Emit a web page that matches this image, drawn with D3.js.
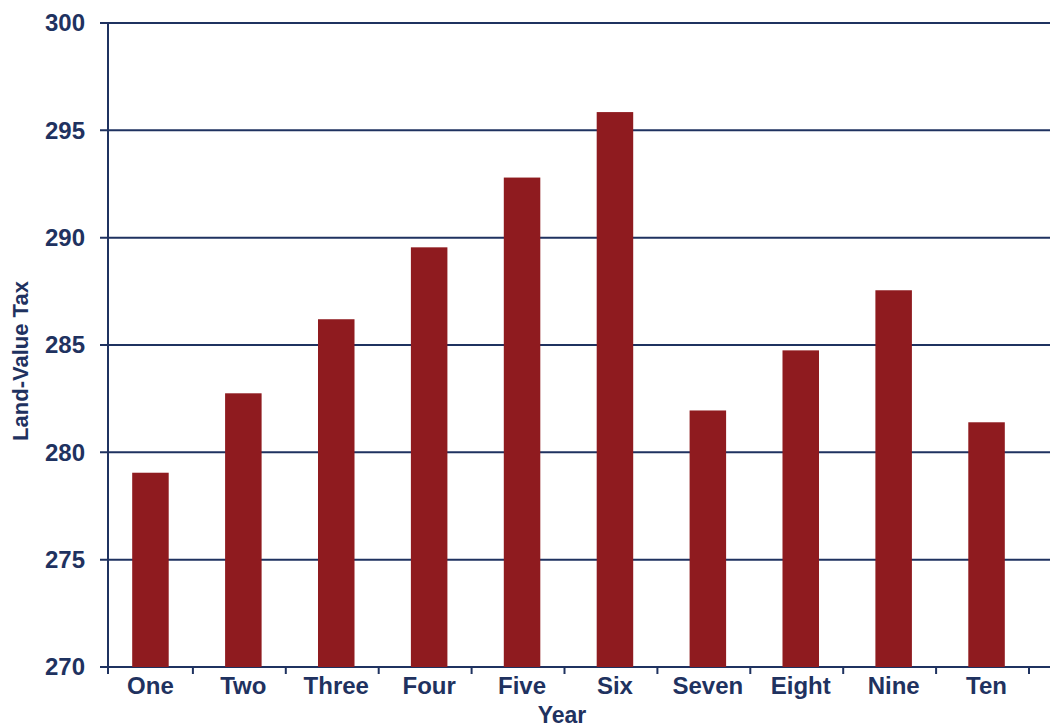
<!DOCTYPE html>
<html>
<meta charset="UTF-8">
<head>
<style>
body { margin: 0; background: white; }
svg { display: block; }
text { font-family: Arial, "Liberation Sans", sans-serif; font-weight: bold; fill: #1f3260; }
</style>
</head>
<body>
<script src="https://d3js.org/d3.v7.min.js"></script>
<script>

// data
var years = ['One', 'Two', 'Three', 'Four', 'Five', 'Six', 'Seven', 'Eight', 'Nine', 'Ten']
var taxValues = [279.05, 282.75, 286.2, 289.55, 292.8, 295.85, 281.95, 284.75, 287.55, 281.4]
var yTicks = [270, 275, 280, 285, 290, 295, 300]

// canvas
var svgWidth = 1050
    svgHeight = 727
    plotLeft = 108
    plotRight = 1050
    plotTop = 23
    plotBottom = 667
    navy = '#1f3260'
    barColor = '#8f1b1f'

var svg = d3.select('body').append('svg')
    .attr('width', svgWidth)
    .attr('height', svgHeight)

var yScale = d3.scaleLinear()
    .domain([270, 300])
    .range([plotBottom, plotTop])

var xScale = d3.scaleBand()
    .domain(years)
    .range([104, 1033])
    .paddingInner(0.607)
    .paddingOuter(0.3035)

// gridlines
svg.append('g').selectAll('line')
    .data(yTicks)
    .enter().append('line')
      .attr('x1', plotLeft - 8)
      .attr('x2', plotRight)
      .attr('y1', d => yScale(d))
      .attr('y2', d => yScale(d))
      .attr('stroke', navy)
      .attr('stroke-width', 2)

// bars
svg.append('g').selectAll('rect')
    .data(taxValues)
    .enter().append('rect')
      .attr('x', (d, i) => xScale(years[i]))
      .attr('y', d => yScale(d))
      .attr('width', xScale.bandwidth())
      .attr('height', d => plotBottom - yScale(d))
      .attr('fill', barColor)

// y axis line
svg.append('line')
    .attr('x1', plotLeft).attr('x2', plotLeft)
    .attr('y1', plotTop).attr('y2', plotBottom + 7)
    .attr('stroke', navy)
    .attr('stroke-width', 2)

// x axis ticks between categories
var step = xScale.step()
svg.append('g').selectAll('line')
    .data(years)
    .enter().append('line')
      .attr('x1', d => xScale(d) - xScale.paddingInner() * step / 2 + step - 4)
      .attr('x2', d => xScale(d) - xScale.paddingInner() * step / 2 + step - 4)
      .attr('y1', plotBottom)
      .attr('y2', plotBottom + 7)
      .attr('stroke', navy)
      .attr('stroke-width', 2)

// y tick labels
svg.append('g').selectAll('text')
    .data(yTicks)
    .enter().append('text')
      .attr('x', 85)
      .attr('y', d => yScale(d))
      .attr('dy', '0.35em')
      .attr('text-anchor', 'end')
      .attr('font-size', 24)
      .text(d => d)

// x tick labels
svg.append('g').selectAll('text')
    .data(years)
    .enter().append('text')
      .attr('x', d => xScale(d) + xScale.bandwidth() / 2)
      .attr('y', 694)
      .attr('text-anchor', 'middle')
      .attr('font-size', 24)
      .text(d => d)

// axis titles
svg.append('text')
    .attr('x', 562)
    .attr('y', 723)
    .attr('text-anchor', 'middle')
    .attr('font-size', 23)
    .text('Year')

svg.append('text')
    .attr('transform', 'translate(28, 361) rotate(-90)')
    .attr('text-anchor', 'middle')
    .attr('font-size', 22)
    .text('Land-Value Tax')

</script>
</body>
</html>
